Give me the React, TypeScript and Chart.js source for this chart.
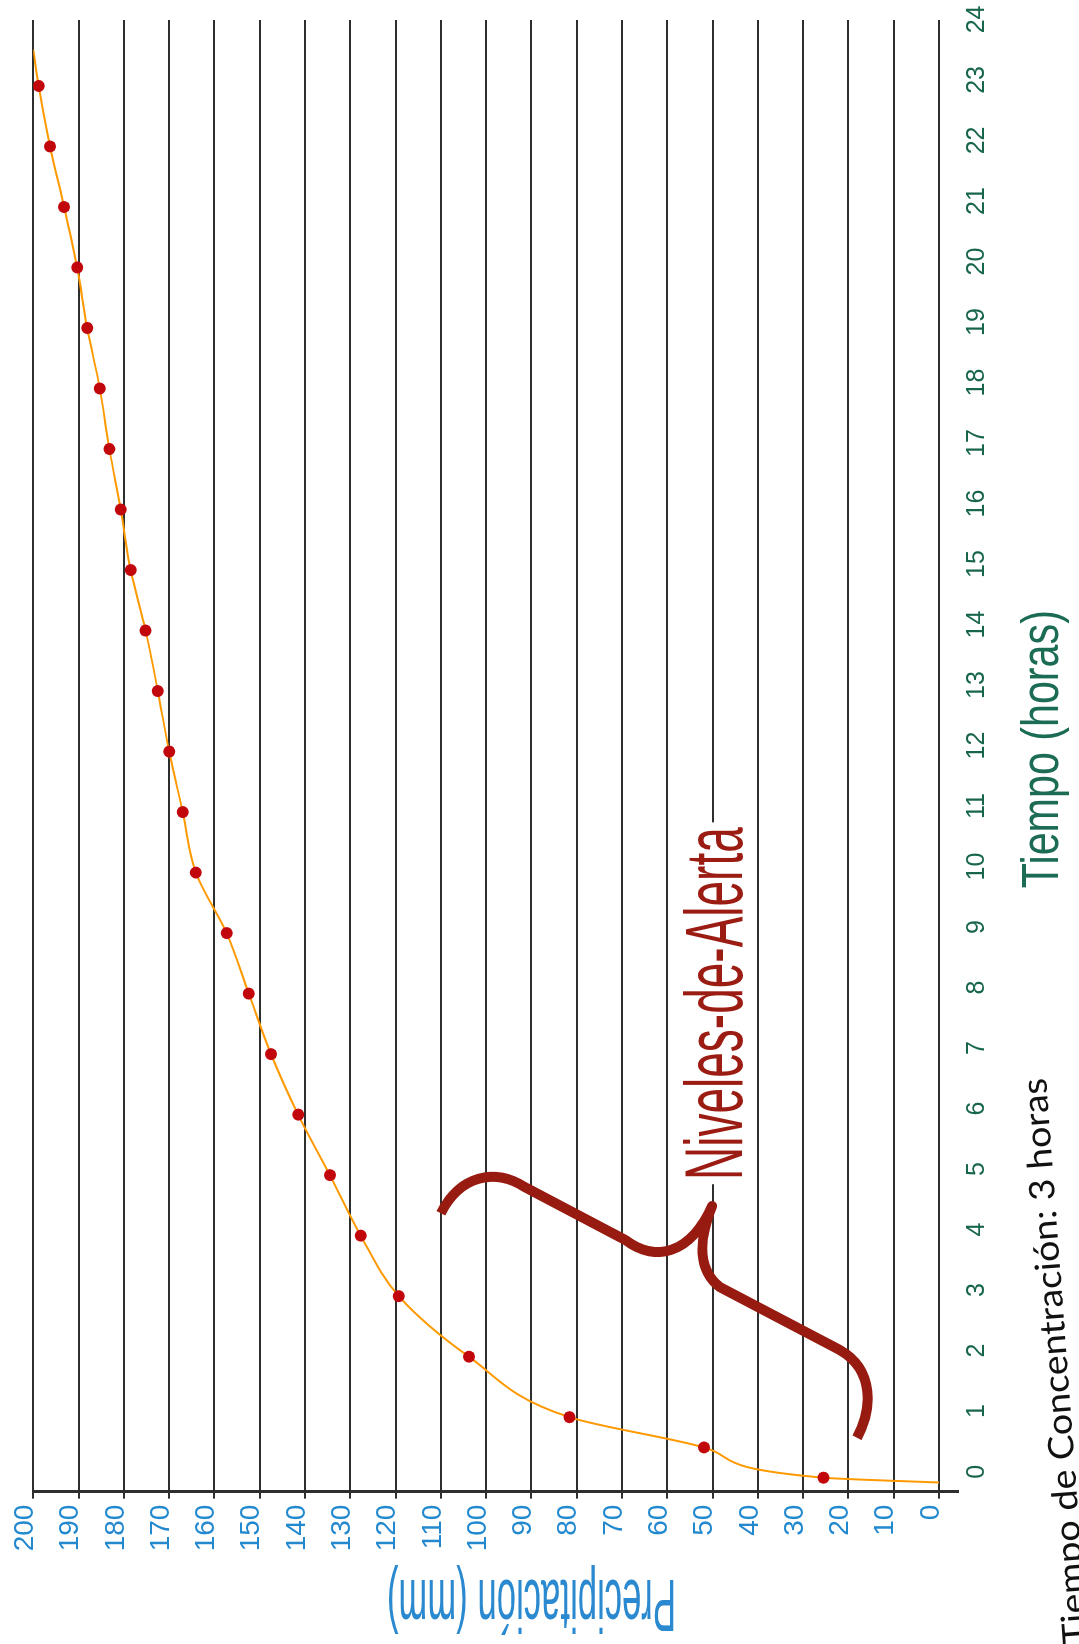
import React, { useEffect, useRef } from 'react';
import { Chart, registerables } from 'chart.js';

Chart.register(...registerables);

// ---- data ----
const hours = [-0.08, 0, 0.5, 1, 2, 3, 4, 5, 6, 7, 8, 9, 10, 11, 12, 13, 14, 15, 16, 17, 18, 19, 20, 21, 22, 23, 23.6];
const precipitation = [0, 25.5, 51.9, 81.6, 103.8, 119.3, 127.7, 134.5, 141.5, 147.5, 152.4, 157.3, 164.1, 167.0, 170.0, 172.5, 175.2, 178.5, 180.7, 183.2, 185.3, 188.1, 190.3, 193.2, 196.3, 198.8, 200];
const markerShown = [false, true, true, true, true, true, true, true, true, true, true, true, true, true, true, true, true, true, true, true, true, true, true, true, true, true, false];
const timeTicks = [0, 1, 2, 3, 4, 5, 6, 7, 8, 9, 10, 11, 12, 13, 14, 15, 16, 17, 18, 19, 20, 21, 22, 23, 24];
const valueTicks = [0, 10, 20, 30, 40, 50, 60, 70, 80, 90, 100, 110, 120, 130, 140, 150, 160, 170, 180, 190, 200];

// brace annotation in data units [hours, mm]
const bracePath: (string | number)[][] = [
  ['M', 4.37, 110],
  ['C', 5.0, 105.8, 5.12, 98.0, 4.8, 91.4],
  ['L', 3.93, 69.3],
  ['C', 3.56, 62.7, 3.68, 55.0, 4.49, 50.1],
  ['C', 3.92, 53.2, 3.43, 53.2, 3.15, 48.4],
  ['L', 2.11, 21.9],
  ['C', 1.78, 14.1, 1.12, 14.8, 0.66, 18.1],
];
const alertLabel = 'Niveles-de-Alerta';
const alertSpan = [4.92, 10.75]; // hours
const alertBaseline = 43.5; // mm
const xTitle = 'Tiempo (horas)';
const yTitle = 'Precipitación (mm)';
const note = 'Tiempo de Concentración: 3 horas';

const NARROW = '"Liberation Sans Narrow", "Liberation Sans", Arial, sans-serif';

function fitText(ctx: CanvasRenderingContext2D, text: string, x: number, y: number, width: number, size: number, family: string, color: string, align: CanvasTextAlign) {
  ctx.save();
  ctx.font = `normal ${size}px ${family}`;
  const w = ctx.measureText(text).width || 1;
  ctx.translate(x, y);
  ctx.scale(width / w, 1);
  ctx.fillStyle = color;
  ctx.textAlign = align;
  ctx.textBaseline = 'alphabetic';
  ctx.fillText(text, 0, 0);
  ctx.restore();
}

const overlayPlugin = {
  id: 'overlay',
  afterDatasetsDraw(chart: any) {
    const { ctx } = chart;
    const xs = chart.scales.x;
    const ys = chart.scales.y;
    const px = (t: number) => xs.getPixelForValue(t);
    const py = (v: number) => ys.getPixelForValue(v);
    ctx.save();
    ctx.strokeStyle = '#971b10';
    ctx.lineWidth = 10;
    ctx.lineCap = 'butt';
    ctx.lineJoin = 'round';
    ctx.beginPath();
    for (const seg of bracePath) {
      const cmd = seg[0] as string;
      const n = seg.slice(1) as number[];
      const p: number[] = [];
      for (let i = 0; i < n.length; i += 2) p.push(px(n[i]), py(n[i + 1]));
      if (cmd === 'M') ctx.moveTo(p[0], p[1]);
      else if (cmd === 'L') ctx.lineTo(p[0], p[1]);
      else ctx.bezierCurveTo(p[0], p[1], p[2], p[3], p[4], p[5]);
    }
    ctx.stroke();
    // white box behind the label
    const a = px(alertSpan[0] - 0.07);
    const b = px(alertSpan[1] + 0.08);
    const top = py(58);
    const bot = py(41.6);
    ctx.fillStyle = '#ffffff';
    ctx.fillRect(a, top, b - a, bot - top);
    fitText(ctx, alertLabel, px(alertSpan[0]), py(alertBaseline), px(alertSpan[1]) - px(alertSpan[0]), 81, NARROW, '#9b1c12', 'left');
    ctx.restore();
  },
  afterDraw(chart: any) {
    const { ctx, chartArea } = chart;
    const xs = chart.scales.x;
    const ys = chart.scales.y;
    // y title (value axis)
    ctx.save();
    ctx.translate(chartArea.left - 88.4, ys.getPixelForValue(90));
    ctx.rotate(-Math.PI / 2);
    fitText(ctx, yTitle, 0, 0, 289, 74, NARROW, '#2a89cf', 'center');
    ctx.restore();
    // x title (time axis)
    fitText(ctx, xTitle, xs.getPixelForValue(12.04), chartArea.bottom + 100, 278, 51, NARROW, '#1b6b55', 'center');
    // note
    ctx.save();
    ctx.translate(0, 1088);
    ctx.rotate(-0.074);
    fitText(ctx, note, 0, 0, 568, 35, '"Lato", "Liberation Sans", Arial, sans-serif', '#111111', 'left');
    ctx.restore();
  },
};

export default function App() {
  const canvasRef = useRef<HTMLCanvasElement | null>(null);

  useEffect(() => {
    document.body.style.margin = '0';
    document.body.style.overflow = 'hidden';
    const canvas = canvasRef.current;
    if (!canvas) return;
    const chart = new Chart(canvas, {
      type: 'line',
      data: {
        datasets: [
          {
            data: hours.map((h, i) => ({ x: h, y: precipitation[i] })),
            borderColor: '#ff9900',
            borderWidth: 2,
            cubicInterpolationMode: 'monotone',
            pointRadius: markerShown.map((m) => (m ? 6 : 0)),
            pointBackgroundColor: '#c1070c',
            pointBorderColor: '#c1070c',
            pointBorderWidth: 0,
            fill: false,
          },
        ],
      },
      options: {
        animation: false,
        responsive: false,
        devicePixelRatio: 1,
        layout: { padding: { top: 33.3, right: 20, bottom: 0, left: 0 } },
        plugins: { legend: { display: false }, tooltip: { enabled: false } },
        scales: {
          x: {
            type: 'linear',
            min: -0.23,
            max: 24.09,
            afterBuildTicks: (scale: any) => {
              scale.ticks = timeTicks.map((v) => ({ value: v }));
            },
            afterFit: (scale: any) => {
              scale.height = 121;
            },
            grid: { display: false },
            border: { display: false },
            ticks: {
              autoSkip: false,
              maxRotation: 0,
              padding: -4,
              labelOffset: 6,
              color: '#17654d',
              font: { family: NARROW, size: 25 },
              callback: (v: any) => String(v),
            },
          },
          y: {
            type: 'linear',
            min: -4.2,
            max: 200,
            afterBuildTicks: (scale: any) => {
              scale.ticks = valueTicks.map((v) => ({ value: v }));
            },
            afterFit: (scale: any) => {
              scale.width = 152.4;
            },
            grid: { color: '#2e2e2e', lineWidth: 2, tickLength: 7, drawTicks: true },
            border: { display: true, color: '#2e2e2e', width: 3 },
            ticks: {
              padding: 6,
              labelOffset: -8,
              color: '#2389cf',
              font: { family: NARROW, size: 28 },
              callback: (v: any) => String(v),
            },
          },
        },
      },
      plugins: [overlayPlugin],
    } as any);
    return () => chart.destroy();
  }, []);

  return (
    <div style={{ position: 'absolute', left: 0, top: 0, width: 1079, height: 1644, overflow: 'hidden', background: '#fff' }}>
      <div
        style={{
          position: 'absolute',
          left: 0,
          top: 0,
          width: 1644,
          height: 1079,
          transformOrigin: '0 0',
          transform: 'translate(0px, 1644px) rotate(-90deg)',
        }}
      >
        <canvas ref={canvasRef} width={1644} height={1079} style={{ width: 1644, height: 1079, display: 'block' }} />
      </div>
    </div>
  );
}
